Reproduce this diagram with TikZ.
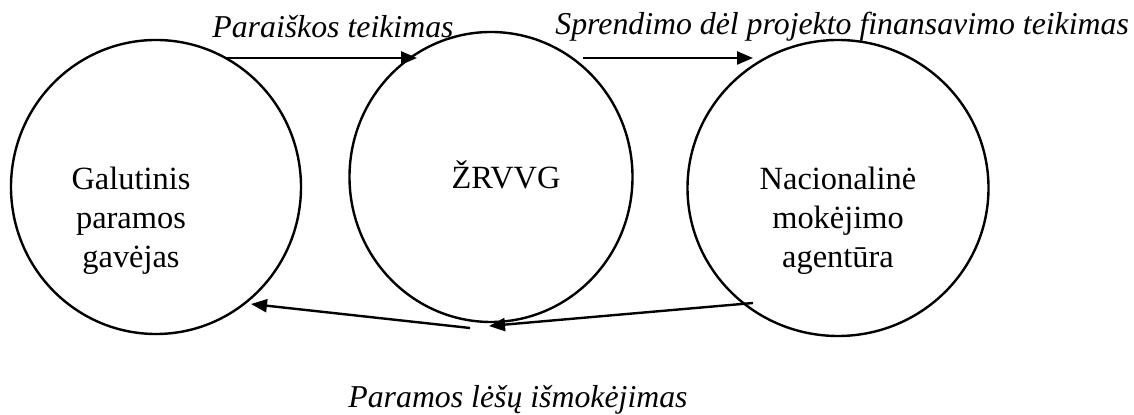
\documentclass[tikz,border=0pt]{standalone}
\usepackage{fontspec}
\setmainfont{Liberation Serif}
\usetikzlibrary{arrows.meta,shapes.geometric}
\begin{document}
\begin{tikzpicture}[x=0.5pt,y=-0.5pt,
  actor/.style={draw, ellipse, line width=1.2pt, inner sep=0pt},
  body/.style={font=\fontsize{16.2}{19.6}\selectfont, align=center, inner sep=0pt},
  flowlabel/.style={font=\fontsize{15.9}{18}\selectfont\itshape, inner sep=0pt, anchor=base west},
  flow/.style={line width=1.2pt, -{Triangle[length=8pt,width=6.5pt]}}]
\useasboundingbox (0,0) rectangle (1134,415);
% circles
\node[actor, minimum width=145pt, minimum height=147pt] (c1) at (156,187) {};
\node[actor, minimum width=141.5pt, minimum height=145pt] (c2) at (491,177) {};
\node[actor, minimum width=150.5pt, minimum height=148pt] (c3) at (838,188) {};
% texts inside
\node[body] (t1) at (131,221) {Galutinis\\paramos\\gavėjas};
\node[body, anchor=base] (t2) at (506,189) {ŽRVVG};
\node[body] (t3) at (838,221) {Nacionalinė\\mokėjimo\\agentūra};
% labels
\node[flowlabel] (l1) at (212,38) {Paraiškos teikimas};
\node[flowlabel] (l2) at (555,35) {Sprendimo dėl projekto finansavimo teikimas};
\node[flowlabel] (l3) at (348,408) {Paramos lėšų išmokėjimas};
% arrow end points
\coordinate (a1s) at (225,58);
\coordinate (a1e) at (417,58);
\coordinate (a2s) at (583,58);
\coordinate (a2e) at (753,58);
\coordinate (a3s) at (753,303);
\coordinate (a3e) at (489,326);
\coordinate (a4s) at (470,328);
\coordinate (a4e) at (251,304);
\draw[flow] (a1s) -- (a1e);
\draw[flow] (a2s) -- (a2e);
\draw[flow] (a3s) -- (a3e);
\draw[flow] (a4s) -- (a4e);
\end{tikzpicture}
\end{document}
